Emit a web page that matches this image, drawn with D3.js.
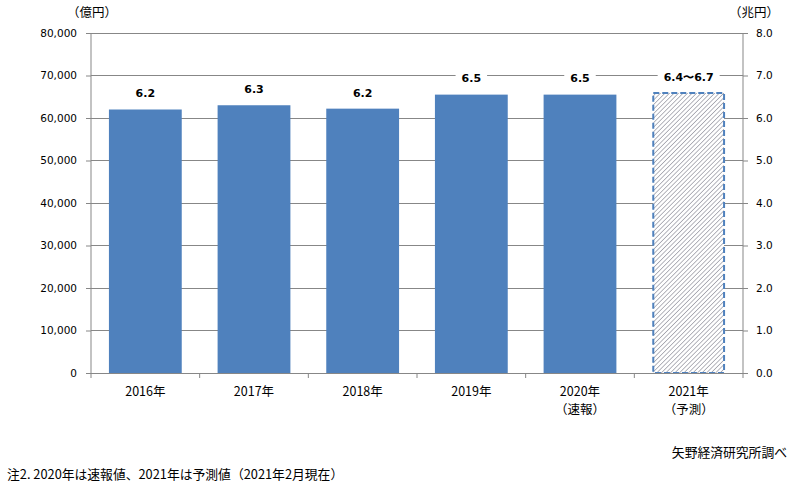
<!DOCTYPE html>
<html>
<head>
<meta charset="utf-8">
<script src="https://cdn.jsdelivr.net/npm/d3@7"></script>
<style>
  body { margin: 0; background: #fff; }
  text { font-family: "Noto Sans CJK JP", "Noto Sans", sans-serif; fill: #000; }
</style>
</head>
<body>
<div id="chart"></div>
<script>
// data
const years = ["2016年", "2017年", "2018年", "2019年", "2020年", "2021年"];
const subLabels = ["", "", "", "", "（速報）", "（予測）"];
const values = [62000, 63000, 62200, 65500, 65500, 65900];   // 億円
const valueLabels = ["6.2", "6.3", "6.2", "6.5", "6.5", "6.4〜6.7"];
const forecast = [false, false, false, false, false, true];
const leftTicks = [0, 10000, 20000, 30000, 40000, 50000, 60000, 70000, 80000];
const rightTicks = [0, 1, 2, 3, 4, 5, 6, 7, 8];

const W = 811, H = 491;
const margin = { top: 33, right: 68, bottom: 118, left: 91 };
const width = W - margin.left - margin.right;
const height = H - margin.top - margin.bottom;
const barColor = "#4f81bd";
const gridColor = "#878787";
const numFont = "Verdana, 'DejaVu Sans', sans-serif";

const svg = d3.select("#chart").append("svg")
    .attr("width", W)
    .attr("height", H);

// diagonal hatch for the forecast bar
const pat = svg.append("defs").append("pattern")
    .attr("id", "hatch")
    .attr("patternUnits", "userSpaceOnUse")
    .attr("width", 3.2)
    .attr("height", 3.2)
    .attr("patternTransform", "rotate(45)");
pat.append("rect").attr("width", 3.2).attr("height", 3.2).attr("fill", "#fff");
pat.append("line")
    .attr("x1", 0).attr("y1", 0).attr("x2", 0).attr("y2", 3.2)
    .attr("stroke", "#6e6e7c").attr("stroke-width", 1);

const g = svg.append("g")
    .attr("transform", `translate(${margin.left},${margin.top})`);

const x = d3.scaleBand()
    .domain(years)
    .range([0, width])
    .paddingInner(0.33)
    .paddingOuter(0.165);

const xTicks = d3.scaleBand().domain(years).range([0, width]);

const y = d3.scaleLinear().domain([0, 80000]).range([height, 0]);
const y2 = d3.scaleLinear().domain([0, 8]).range([height, 0]);

// gridlines
g.append("g")
    .selectAll("line")
    .data(leftTicks.filter(d => d > 0))
    .join("line")
    .attr("x1", 0).attr("x2", width)
    .attr("y1", d => y(d)).attr("y2", d => y(d))
    .attr("stroke", gridColor)
    .attr("stroke-width", 1)
    .attr("shape-rendering", "crispEdges");

// bars
g.append("g")
    .selectAll("rect")
    .data(values)
    .join("rect")
    .attr("x", (d, i) => x(years[i]) + (forecast[i] ? 1 : 0))
    .attr("y", d => y(d))
    .attr("width", (d, i) => x.bandwidth() - (forecast[i] ? 2 : 0))
    .attr("height", d => height - y(d))
    .attr("fill", (d, i) => forecast[i] ? "url(#hatch)" : barColor)
    .attr("stroke", (d, i) => forecast[i] ? barColor : "none")
    .attr("stroke-width", 2)
    .attr("stroke-dasharray", "6,3");

// left axis
const yAxis = g.append("g")
    .call(d3.axisLeft(y).tickValues(leftTicks).tickSize(5).tickPadding(9)
        .tickFormat(d3.format(",")));
yAxis.select(".domain").attr("stroke", gridColor).attr("d", `M0,0V${height}`);
yAxis.selectAll(".tick line").attr("stroke", gridColor);
yAxis.selectAll("text").style("font-family", numFont).attr("font-size", 10.5);

// right axis
const yAxis2 = g.append("g")
    .attr("transform", `translate(${width},0)`)
    .call(d3.axisRight(y2).tickValues(rightTicks).tickSize(5).tickPadding(8)
        .tickFormat(d3.format(".1f")));
yAxis2.select(".domain").attr("stroke", gridColor).attr("d", `M0,0V${height}`);
yAxis2.selectAll(".tick line").attr("stroke", gridColor);
yAxis2.selectAll("text").style("font-family", numFont).attr("font-size", 10.5);

// x axis
const xAxisG = g.append("g").attr("transform", `translate(0,${height})`);
xAxisG.append("line")
    .attr("x1", 0).attr("x2", width)
    .attr("stroke", gridColor)
    .attr("shape-rendering", "crispEdges");
xAxisG.selectAll(".xtick")
    .data(years.concat(["end"]))
    .join("line")
    .attr("class", "xtick")
    .attr("x1", (d, i) => i * xTicks.step())
    .attr("x2", (d, i) => i * xTicks.step())
    .attr("y1", 0).attr("y2", 5)
    .attr("stroke", gridColor);
xAxisG.selectAll(".xlabel")
    .data(years)
    .join("text")
    .attr("class", "xlabel")
    .attr("x", d => xTicks(d) + xTicks.bandwidth() / 2)
    .attr("y", 23)
    .attr("text-anchor", "middle")
    .attr("font-size", 12.5)
    .text(d => d);
xAxisG.selectAll(".xsub")
    .data(subLabels)
    .join("text")
    .attr("class", "xsub")
    .attr("x", (d, i) => xTicks(years[i]) + xTicks.bandwidth() / 2)
    .attr("y", 41)
    .attr("text-anchor", "middle")
    .attr("font-size", 12.5)
    .text(d => d);

// value labels with white backgrounds
const labels = g.append("g")
    .selectAll("g")
    .data(values)
    .join("g")
    .attr("transform", (d, i) => `translate(${x(years[i]) + x.bandwidth() / 2},${y(d) - 16})`);
labels.append("text")
    .attr("text-anchor", "middle")
    .attr("dy", "0.35em")
    .attr("font-size", 11)
    .attr("font-weight", "bold")
    .style("font-family", numFont)
    .text((d, i) => valueLabels[i]);
labels.each(function () {
    const b = d3.select(this).select("text").node().getBBox();
    d3.select(this).insert("rect", "text")
        .attr("x", b.x - 6).attr("y", b.y - 1)
        .attr("width", b.width + 12).attr("height", b.height + 2)
        .attr("fill", "#fff");
});

// unit labels
svg.append("text")
    .attr("x", 92).attr("y", 17)
    .attr("text-anchor", "middle")
    .attr("font-size", 12.5)
    .text("（億円）");
svg.append("text")
    .attr("x", 754).attr("y", 17)
    .attr("text-anchor", "middle")
    .attr("font-size", 12.5)
    .text("（兆円）");

// source and note
svg.append("text")
    .attr("x", 787).attr("y", 457)
    .attr("text-anchor", "end")
    .attr("font-size", 12.8)
    .text("矢野経済研究所調べ");
svg.append("text")
    .attr("x", 7).attr("y", 479)
    .attr("font-size", 12.8)
    .text("注2. 2020年は速報値、2021年は予測値（2021年2月現在）");
</script>
</body>
</html>
